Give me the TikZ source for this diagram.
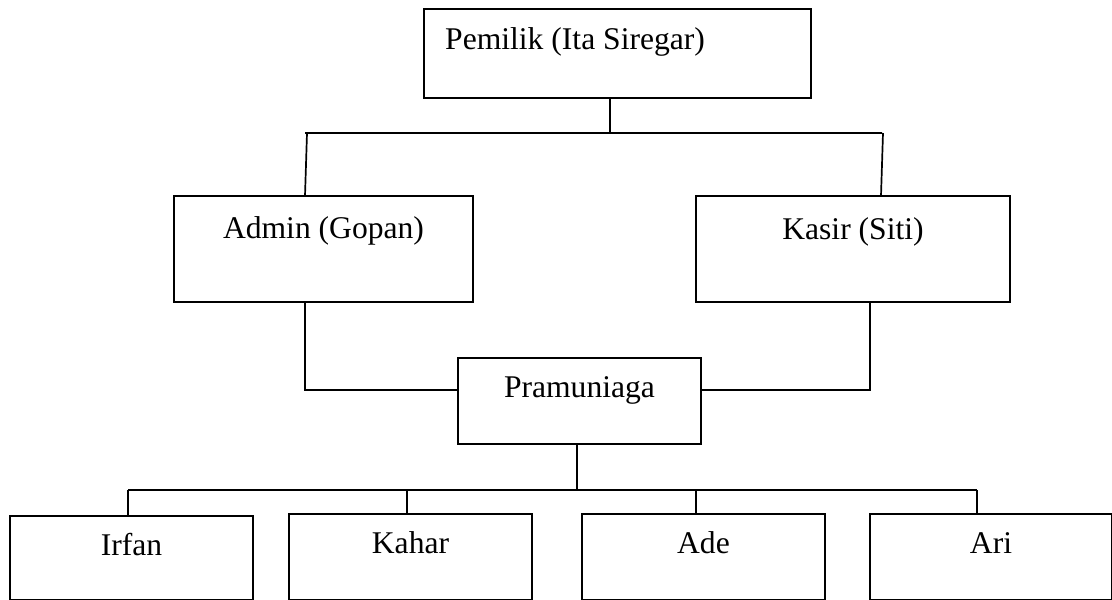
\documentclass[tikz,border=0pt]{standalone}
\usepackage{fontspec}
\setmainfont{Liberation Serif}
\begin{document}
\begin{tikzpicture}[x=1pt,y=-1pt,
  box/.style={draw=black,line width=2pt,rectangle,inner sep=0pt,fill=none},
  lbl/.style={inner sep=0pt,font=\fontsize{31.6}{38}\selectfont},
  conn/.style={draw=black,line width=1.7pt}]
\useasboundingbox (0,0) rectangle (1112,600);
\clip (0,0) rectangle (1112,600);
% boxes
\node[box,minimum width=387pt,minimum height=89pt] (own) at (617.5,53.5) {};
\node[box,minimum width=299pt,minimum height=106pt] (adm) at (323.5,249) {};
\node[box,minimum width=314pt,minimum height=106pt] (kas) at (853,249) {};
\node[box,minimum width=243pt,minimum height=86pt] (pra) at (579.5,401) {};
\node[box,minimum width=243pt,minimum height=84pt] (irf) at (131.5,558) {};
\node[box,minimum width=243pt,minimum height=86pt] (kah) at (410.5,557) {};
\node[box,minimum width=243pt,minimum height=86pt] (ade) at (703.5,557) {};
\node[box,minimum width=242pt,minimum height=86pt] (ari) at (991,557) {};
% labels
\node[lbl,anchor=base west] (townl) at (445,49) {Pemilik (Ita Siregar)};
\node[lbl,anchor=base] (tadm) at (323.5,238) {Admin (Gopan)};
\node[lbl,anchor=base] (tkas) at (853,239) {Kasir (Siti)};
\node[lbl,anchor=base] (tpra) at (579.5,397) {Pramuniaga};
\node[lbl,anchor=base] (tirf) at (131.5,555) {Irfan};
\node[lbl,anchor=base] (tkah) at (410.5,553) {Kahar};
\node[lbl,anchor=base] (tade) at (703.5,553) {Ade};
\node[lbl,anchor=base] (tari) at (991,553) {Ari};
% connector points
\coordinate (b1) at (610,133);
\coordinate (b1l) at (307,133);
\coordinate (b1r) at (883,133);
\coordinate (al) at (305,196);
\coordinate (kr) at (881,196);
\coordinate (ad) at (305,390);
\coordinate (kd) at (870,390);
\coordinate (b2) at (577,490);
\coordinate (b2a) at (128,490);
\coordinate (b2b) at (407,490);
\coordinate (b2c) at (696,490);
\coordinate (b2d) at (977,490);
% connectors
\draw[conn] (own.south -| b1) -- (b1);
\draw[conn] ([xshift=-2pt]b1l) -- ([xshift=-1pt]b1r);
\draw[conn] (b1l) -- (al);
\draw[conn] (b1r) -- (kr);
\draw[conn] (adm.south -| ad) -- (ad) -- (pra.west |- ad);
\draw[conn] (kas.south -| kd) -- (kd) -- (pra.east |- kd);
\draw[conn] (pra.south -| b2) -- (b2);
\draw[conn] (b2a) -- (b2d);
\draw[conn] (b2a) -- (irf.north -| b2a);
\draw[conn] (b2b) -- (kah.north -| b2b);
\draw[conn] (b2c) -- (ade.north -| b2c);
\draw[conn] (b2d) -- (ari.north -| b2d);
\end{tikzpicture}
\end{document}
